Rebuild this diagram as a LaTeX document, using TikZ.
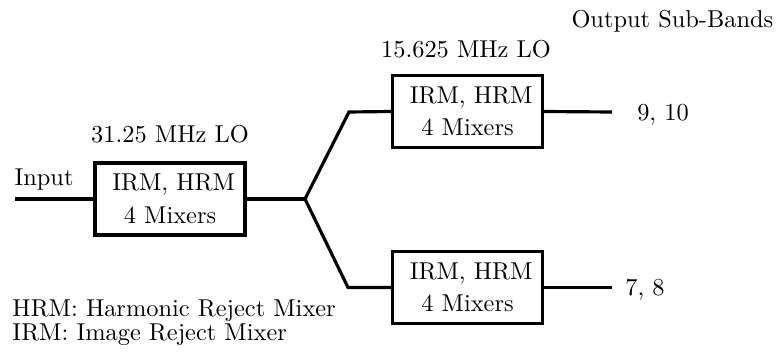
\documentclass[tikz,border=0pt]{standalone}
\begin{document}
\begin{tikzpicture}[x=0.41pt,y=-0.41pt,
  mixbox/.style={draw,line width=1.3pt,minimum width=61.5pt,minimum height=29.5pt,inner sep=0pt,align=center,font=\fontsize{10}{13.3}\selectfont},
  wire/.style={line width=1.3pt},
  lbl/.style={inner sep=0pt,font=\fontsize{10}{12}\selectfont}]
\useasboundingbox (0,0) rectangle (776,353);
\node[mixbox] (b1) at (170,199) {\hspace*{3pt}IRM, HRM\\4 Mixers};
\node[mixbox] (b2) at (467.5,111.5) {\hspace*{3pt}IRM, HRM\\4 Mixers};
\node[mixbox] (b3) at (467.5,287.5) {\hspace*{3pt}IRM, HRM\\4 Mixers};
\coordinate (in) at (15,199);
\coordinate (j) at (305,199);
\coordinate (cu) at (349,112);
\coordinate (cl) at (348,287.5);
\coordinate (o1) at (612,112);
\coordinate (o2) at (612,287.5);
\draw[wire] (in) -- (b1.west);
\draw[wire] (b1.east) -- (j);
\draw[wire,line join=miter] (j) -- (cu) -- (b2.west);
\draw[wire,line join=miter] (j) -- (cl) -- (b3.west);
\draw[wire] (b2.east) -- (o1);
\draw[wire] (b3.east) -- (o2);
\node[lbl,anchor=base] (tin) at (44,185) {Input};
\node[lbl,anchor=base] (lo1) at (170,142) {31.25 MHz LO};
\node[lbl,anchor=base] (lo2) at (466,58) {15.625 MHz LO};
\node[lbl,anchor=base west] (osb) at (571,28) {Output Sub-Bands};
\node[lbl,anchor=base] (s1) at (663,120) {9, 10};
\node[lbl,anchor=base] (s2) at (645,295) {7, 8};
\node[lbl,anchor=base west] (l1) at (12,316) {HRM: Harmonic Reject Mixer};
\node[lbl,anchor=base west] (l2) at (12,340) {IRM: Image Reject Mixer};
\end{tikzpicture}
\end{document}
